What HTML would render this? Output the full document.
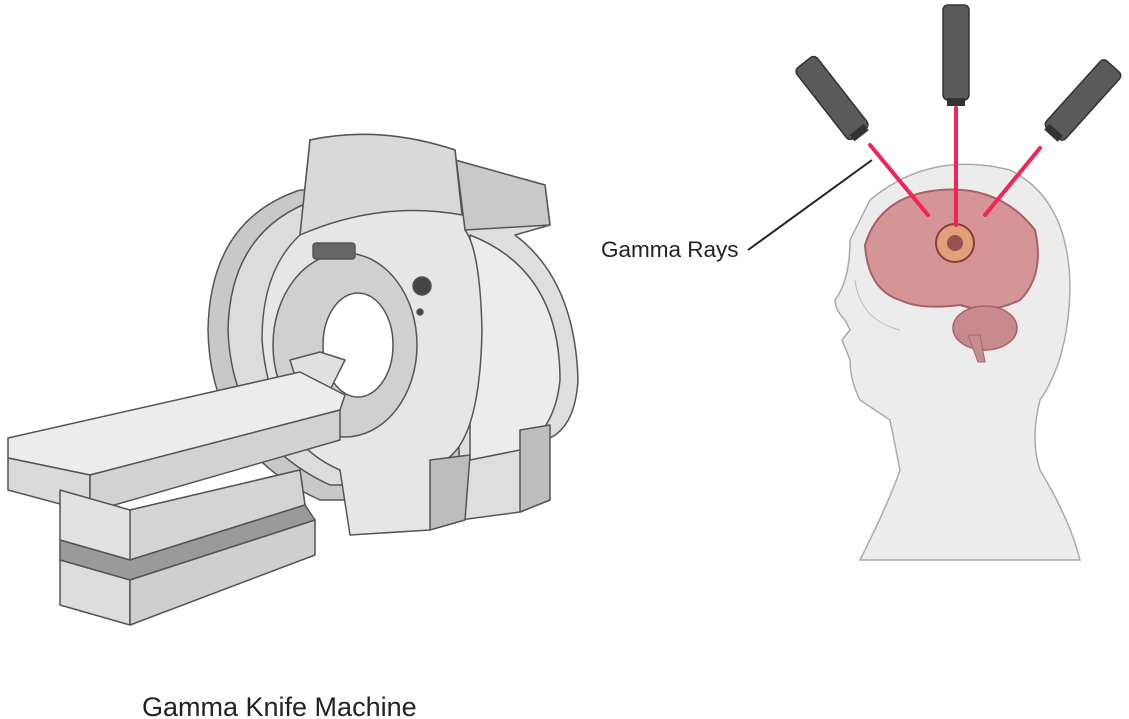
<!DOCTYPE html>
<html><head><meta charset="utf-8"><style>
html,body{margin:0;padding:0;background:#fff;}
svg{display:block}
text{font-family:"Liberation Sans",sans-serif;fill:#222}
</style></head><body>
<svg width="1129" height="719" viewBox="0 0 1129 719" xmlns="http://www.w3.org/2000/svg">
<!-- MRI machine -->
<g stroke="#555" stroke-width="1.5" stroke-linejoin="round">
 <path d="M300 190 Q210 220 208 330 Q210 450 320 500 L460 500 L470 190 Z" fill="#c8c8c8"/>
 <path d="M315 200 Q230 230 228 330 Q232 440 330 485 L440 485 L450 200 Z" fill="#dcdcdc"/>
 <path d="M455 160 L545 185 L550 225 L515 235 Q575 280 578 380 Q575 430 545 440 L550 500 L520 512 L460 520 Z" fill="#dedede"/>
 <path d="M470 235 Q560 270 560 380 Q555 430 520 450 L470 460 Z" fill="#ececec"/>
 <path d="M520 430 L550 425 L550 500 L520 512 Z" fill="#bdbdbd"/>
 <path d="M455 160 L545 185 L550 225 L465 230 Z" fill="#c9c9c9"/>
 <path d="M310 140 Q380 125 455 150 L465 230 Q480 250 482 330 Q480 440 445 460 L430 530 L350 535 L340 470 Q270 440 262 340 Q262 270 300 235 Z" fill="#e6e6e6"/>
 <path d="M310 140 Q380 125 455 150 L462 215 Q380 200 300 235 Z" fill="#d9d9d9"/>
 <path d="M430 460 L470 455 L465 520 L430 530 Z" fill="#bdbdbd"/>
 <ellipse cx="345" cy="345" rx="72" ry="92" fill="#d0d0d0"/>
 <ellipse cx="358" cy="345" rx="35" ry="52" fill="#fff"/>
 <rect x="313" y="243" width="42" height="16" rx="3" fill="#666"/>
 <circle cx="422" cy="286" r="9" fill="#444"/>
 <circle cx="420" cy="312" r="3" fill="#444"/>
 <path d="M290 360 L320 352 L345 360 L330 390 L300 392 Z" fill="#e0e0e0"/>
 <path d="M8 438 L300 372 L345 395 L340 410 L90 475 L8 458 Z" fill="#ececec"/>
 <path d="M8 458 L90 475 L90 512 L8 490 Z" fill="#dadada"/>
 <path d="M90 475 L340 410 L340 440 L90 512 Z" fill="#d2d2d2"/>
 <path d="M60 490 L130 510 L300 470 L305 505 L130 560 L60 540 Z" fill="#e2e2e2"/>
 <path d="M130 510 L300 470 L305 505 L130 560 Z" fill="#d4d4d4"/>
 <path d="M60 540 L130 560 L305 505 L315 520 L130 580 L60 560 Z" fill="#9a9a9a"/>
 <path d="M60 560 L130 580 L130 625 L60 605 Z" fill="#dcdcdc"/>
 <path d="M130 580 L315 520 L315 555 L130 625 Z" fill="#cfcfcf"/>
</g>
<text x="142" y="716" font-size="27">Gamma Knife Machine</text>

<!-- head -->
<path d="M870 200 Q930 150 1010 170 Q1070 200 1070 290 Q1068 360 1040 400 Q1030 440 1040 470 Q1070 520 1080 560 L860 560 Q890 500 900 470 L890 420 Q875 410 860 400 Q850 380 850 360 L842 340 L850 330 L845 320 Q835 310 835 300 Q850 280 850 240 Z" fill="#ececec" stroke="#aaa" stroke-width="1.5"/>
<path d="M855 280 Q860 320 900 330" fill="none" stroke="#bbb"/>
<!-- brain -->
<path d="M865 245 Q880 195 940 190 Q1000 185 1035 230 Q1045 275 1020 300 Q990 315 960 305 Q920 310 900 300 Q868 290 865 245 Z" fill="#d59597" stroke="#a86068" stroke-width="2"/>
<ellipse cx="985" cy="328" rx="32" ry="22" fill="#c98a8e" stroke="#a86068" stroke-width="1.5"/>
<path d="M968 335 L978 362 L985 362 L980 335 Z" fill="#c98a8e" stroke="#a86068"/>
<circle cx="955" cy="243" r="19" fill="#e0a07a" stroke="#8a3b3b" stroke-width="2"/>
<circle cx="955" cy="243" r="8" fill="#9a5050"/>
<!-- rays -->
<g stroke="#f0245a" stroke-width="4" stroke-linecap="round">
 <line x1="870" y1="145" x2="928" y2="215"/>
 <line x1="956" y1="108" x2="956" y2="225"/>
 <line x1="1040" y1="148" x2="985" y2="215"/>
</g>
<!-- emitters -->
<g fill="#5a5a5a" stroke="#333" stroke-width="1.5">
 <rect x="-13" y="-45" width="26" height="90" rx="5" transform="translate(832 98) rotate(-38)"/>
 <rect x="943" y="5" width="26" height="95" rx="5"/>
 <rect x="-13" y="-45" width="26" height="90" rx="5" transform="translate(1083 100) rotate(42)"/>
</g>
<g fill="#333">
 <rect x="-9" y="40" width="18" height="8" transform="translate(832 98) rotate(-38)"/>
 <rect x="947" y="98" width="18" height="8"/>
 <rect x="-9" y="40" width="18" height="8" transform="translate(1083 100) rotate(42)"/>
</g>
<line x1="748" y1="250" x2="872" y2="160" stroke="#222" stroke-width="2"/>
<text x="601" y="257" font-size="22.5">Gamma Rays</text>
</svg>
</body></html>
